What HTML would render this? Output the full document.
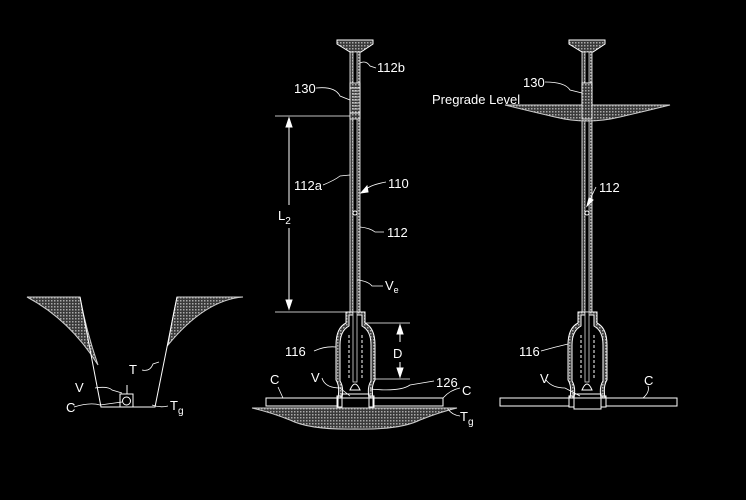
<!DOCTYPE html>
<html><head><meta charset="utf-8"><style>
html,body{margin:0;padding:0;background:#000;}
svg{display:block}
text{font-family:"Liberation Sans",sans-serif;fill:#fff;font-size:13px}
</style></head><body>
<svg width="746" height="500" viewBox="0 0 746 500" xmlns="http://www.w3.org/2000/svg">
<defs>
<pattern id="h" width="3" height="3" patternUnits="userSpaceOnUse">
<rect width="3" height="3" fill="#3a3a3a"/><rect width="1.5" height="1.5" fill="#aaa"/>
</pattern>
<g id="rod">
<path d="M-18 40 L18 40 L18 44 L6 52 L-5 52 L-18 44 Z" fill="url(#h)" stroke="#fff"/>
<rect x="-5" y="52" width="10" height="262" fill="url(#h)" stroke="#fff" stroke-width="0.8"/>
<rect x="-2" y="52" width="4" height="262" fill="#000" stroke="#ddd" stroke-width="0.8"/>
<rect x="-5" y="83" width="10" height="36" fill="url(#h)" stroke="#fff" stroke-width="0.8"/>
<line x1="-5" y1="88" x2="5" y2="88" stroke="#fff"/><line x1="-5" y1="113" x2="5" y2="113" stroke="#fff"/>
<path d="M-3 91 H3 M-3 94 H3 M-3 97 H3 M-3 100 H3 M-3 103 H3 M-3 106 H3 M-3 109 H3" stroke="#fff" stroke-width="0.7"/>
<circle cx="0" cy="213" r="2" fill="#000" stroke="#fff"/>
<path d="M-9 312 H10 V323 Q20 328 20 345 V380 Q16 386 18 398 H-17 Q-15 386 -19 380 V345 Q-19 328 -9 323 Z" fill="url(#h)" stroke="#fff"/>
<path d="M-6 315 H7 V326 Q16 331 16 345 V381 Q12 387 14 398 H-13 Q-11 387 -15 381 V345 Q-15 331 -6 326 Z" fill="#000" stroke="#fff"/>
<rect x="-2" y="312" width="4" height="70" fill="#000" stroke="#ddd" stroke-width="0.8"/>
<g stroke="#fff" stroke-dasharray="3 2"><line x1="-6" y1="335" x2="-6" y2="380"/><line x1="7" y1="335" x2="7" y2="380"/></g>
<path d="M-5 390 Q0 378 5 390 Z" fill="#000" stroke="#fff"/>
</g>
</defs>
<use href="#rod" x="355"/>
<use href="#rod" x="587"/>
<g stroke="#fff" fill="none" stroke-width="1">
<path d="M27 297 L80 297 Q86 330 98 365 Q70 320 27 297 Z" fill="url(#h)" stroke="#ccc"/>
<path d="M177 297 L243 297 Q205 300 168 345 Q172 320 177 297 Z" fill="url(#h)" stroke="#ccc"/>
<path d="M80 297 L101 407 L155 407 L177 297"/>
<rect x="120" y="394" width="13" height="13"/>
<circle cx="126.5" cy="401" r="4"/>
<line x1="127" y1="385" x2="127" y2="394"/>
<path d="M95 388 Q108 386 112 390 L122 393" stroke-width="0.8"/>
<path d="M74 407 Q90 402 100 405 L122 402" stroke-width="0.8"/>
<path d="M142 370 Q150 372 153 364 L159 362" stroke-width="0.8"/>
<path d="M152 405 Q160 408 168 406" stroke-width="0.8"/>

<line x1="275" y1="116" x2="350" y2="116" stroke-width="0.8"/>
<line x1="275" y1="312" x2="346" y2="312" stroke-width="0.8"/>
<line x1="289" y1="119" x2="289" y2="205"/><line x1="289" y1="228" x2="289" y2="309"/>
<path d="M286 127 L289 118 L292 127 Z" fill="#fff"/><path d="M286 300 L289 309 L292 300 Z" fill="#fff"/>
<line x1="365" y1="323" x2="410" y2="323" stroke-width="0.8"/>
<line x1="375" y1="379" x2="410" y2="379" stroke-width="0.8"/>
<line x1="400" y1="326" x2="400" y2="342"/><line x1="400" y1="362" x2="400" y2="376"/>
<path d="M397 334 L400 325 L403 334 Z" fill="#fff"/><path d="M397 368 L400 377 L403 368 Z" fill="#fff"/>
<rect x="266" y="398" width="72" height="8"/><rect x="373" y="398" width="70" height="8"/>
<rect x="342" y="394" width="27" height="15"/>
<rect x="337" y="396" width="5" height="11"/><rect x="369" y="396" width="5" height="11"/>
<path d="M252 408 L457 408 Q440 412 420 420 Q400 430 355 429 Q310 430 290 420 Q270 412 252 408 Z" fill="url(#h)" stroke="#ccc"/>
<path d="M360 63 Q366 60 370 66 L376 68" stroke-width="0.8"/>
<path d="M316 88 Q335 86 340 96 L350 100" stroke-width="0.8"/>
<path d="M323 185 Q335 180 340 176 L350 175" stroke-width="0.8"/>
<path d="M386 182 Q370 185 365 190" stroke-width="0.8"/><path d="M361 193 L367 186 L368 192 Z" fill="#fff"/>
<path d="M360 227 Q370 228 375 232 L384 232" stroke-width="0.8"/>
<path d="M357 280 Q368 281 372 286 L383 286" stroke-width="0.8"/>
<path d="M314 351 Q325 346 336 347" stroke-width="0.8"/>
<path d="M322 378 Q325 388 340 388 L350 396" stroke-width="0.8"/>
<path d="M370 389 Q400 392 410 385 L434 381" stroke-width="0.8"/>
<path d="M278 387 L283 398" stroke-width="0.8"/>
<path d="M443 398 Q450 390 460 388" stroke-width="0.8"/>
<path d="M448 409 Q452 415 460 416" stroke-width="0.8"/>

<path d="M505 105 L670 105 Q650 110 620 117 Q587 125 555 117 Q525 110 505 105 Z" fill="url(#h)" stroke="#ccc"/>
<rect x="582" y="83" width="10" height="36" fill="url(#h)" stroke="#fff" stroke-width="0.8"/>
<rect x="500" y="398" width="69" height="8"/><rect x="606" y="398" width="71" height="8"/>
<rect x="574" y="394" width="27" height="15"/>
<rect x="569" y="396" width="5" height="11"/><rect x="601" y="396" width="5" height="11"/>
<path d="M545 82 Q565 82 570 90 L582 93" stroke-width="0.8"/>
<path d="M596 187 Q592 195 590 200" stroke-width="0.8"/><path d="M587 206 L589 198 L593 200 Z" fill="#fff"/>
<path d="M541 351 Q555 347 568 344" stroke-width="0.8"/>
<path d="M546 380 Q552 388 565 388 L580 396" stroke-width="0.8"/>
<path d="M648 386 Q650 392 643 398" stroke-width="0.8"/>
</g>
<text x="377" y="72">112b</text>
<text x="294" y="93">130</text>
<text x="294" y="190">112a</text>
<text x="388" y="188">110</text>
<text x="278" y="220" font-size="14">L<tspan font-size="10" dy="4">2</tspan></text>
<text x="387" y="237">112</text>
<text x="385" y="290">V<tspan font-size="9" dy="3">e</tspan></text>
<text x="285" y="356">116</text>
<text x="393" y="358" font-size="14">D</text>
<text x="311" y="382">V</text>
<text x="436" y="387">126</text>
<text x="270" y="384">C</text>
<text x="462" y="395">C</text>
<text x="460" y="421">T<tspan font-size="10" dy="4">g</tspan></text>
<text x="432" y="104">Pregrade Level</text>
<text x="523" y="87">130</text>
<text x="599" y="192">112</text>
<text x="519" y="356">116</text>
<text x="540" y="383">V</text>
<text x="644" y="385">C</text>
<text x="129" y="374">T</text>
<text x="75" y="392">V</text>
<text x="66" y="412">C</text>
<text x="170" y="410">T<tspan font-size="10" dy="4">g</tspan></text>
</svg>
</body></html>
